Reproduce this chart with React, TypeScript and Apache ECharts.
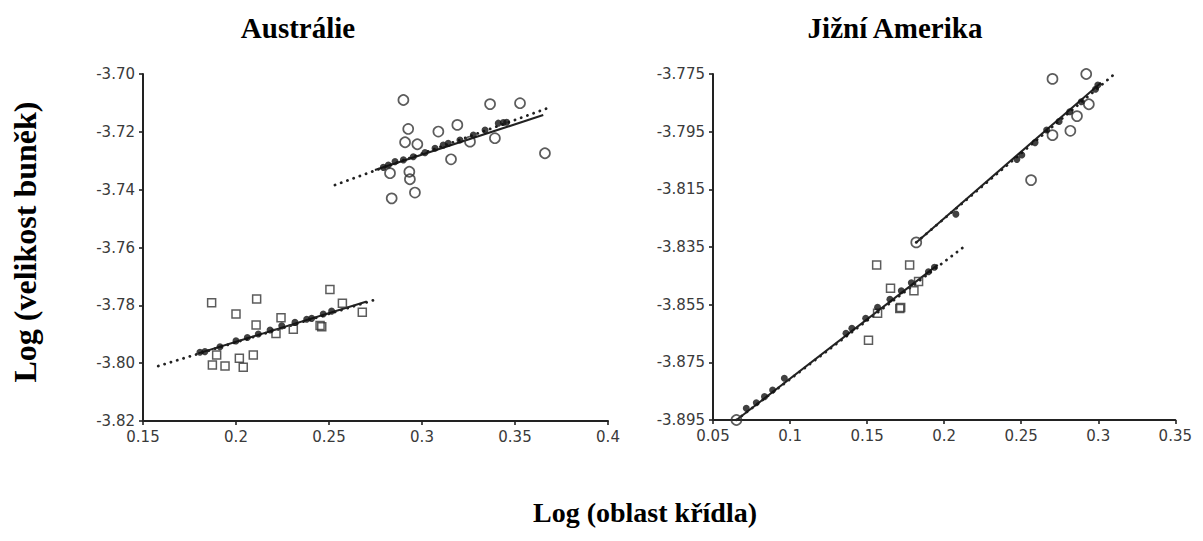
import React, { useEffect, useRef } from "react";
import * as echarts from "echarts";

// ---------- Data ----------
const auXTicks = [0.15, 0.2, 0.25, 0.3, 0.35, 0.4];
const auYTicks = [-3.82, -3.8, -3.78, -3.76, -3.74, -3.72, -3.7];
const saXTicks = [0.05, 0.1, 0.15, 0.2, 0.25, 0.3, 0.35];
const saYTicks = [-3.895, -3.875, -3.855, -3.835, -3.815, -3.795, -3.775];

// Austrálie – open circles (upper group)
const auCircles = [
  [0.29, -3.709], [0.3366, -3.7104], [0.3527, -3.7101], [0.2926, -3.719],
  [0.3088, -3.7199], [0.319, -3.7176], [0.2909, -3.7236], [0.2975, -3.7243],
  [0.3258, -3.7234], [0.3392, -3.7222], [0.3661, -3.7274], [0.3156, -3.7295],
  [0.2828, -3.7343], [0.2932, -3.7338], [0.2935, -3.7364], [0.2837, -3.743],
  [0.2962, -3.741],
];
// Austrálie – open squares (lower group)
const auSquares = [
  [0.1869, -3.7791], [0.2, -3.783], [0.2111, -3.7778], [0.2505, -3.7745],
  [0.2572, -3.7793], [0.2679, -3.7824], [0.2108, -3.7868], [0.2242, -3.7843],
  [0.2215, -3.7897], [0.2308, -3.7883], [0.2452, -3.787], [0.2461, -3.7874],
  [0.1873, -3.8006], [0.1941, -3.801], [0.1896, -3.7972], [0.2018, -3.7983],
  [0.2039, -3.8014], [0.2093, -3.7972],
];
// Austrálie – filled (fitted) points
const auUpperDots = [
  [0.2792, -3.7323], [0.2819, -3.7315], [0.2855, -3.7303], [0.29, -3.7297],
  [0.2953, -3.7286], [0.3016, -3.7272], [0.307, -3.7257], [0.3114, -3.7246],
  [0.3141, -3.724], [0.3204, -3.7228], [0.3276, -3.7211], [0.3339, -3.7194],
  [0.341, -3.717], [0.3437, -3.7168], [0.3455, -3.7167],
];
const auLowerDots = [
  [0.1806, -3.7962], [0.1833, -3.796], [0.1914, -3.7943], [0.2, -3.7923],
  [0.2061, -3.7911], [0.212, -3.7899], [0.2183, -3.7885], [0.2246, -3.7871],
  [0.2317, -3.7859], [0.238, -3.7848], [0.2407, -3.7845], [0.2469, -3.783],
  [0.2514, -3.782],
];
const auUpperFit = [[0.2747, -3.7332], [0.3652, -3.7142]];
const auUpperTrend = [[0.2532, -3.7384], [0.3697, -3.7113]];
const auLowerFit = [[0.1797, -3.7966], [0.2703, -3.7787]];
const auLowerTrend = [[0.1582, -3.801], [0.2756, -3.7779]];

// Jižní Amerika
const saCircles = [
  [0.2703, -3.7767], [0.2922, -3.775], [0.2939, -3.7855], [0.2862, -3.7896],
  [0.2819, -3.7947], [0.2703, -3.7962], [0.2564, -3.8118], [0.1819, -3.8334],
  [0.0652, -3.895],
];
const saSquares = [
  [0.1562, -3.8412], [0.1776, -3.8412], [0.1652, -3.8493], [0.1834, -3.847],
  [0.1804, -3.8502], [0.1568, -3.858], [0.1712, -3.8563], [0.1718, -3.856],
  [0.1509, -3.8673],
];
const saUpperDots = [
  [0.2997, -3.7788], [0.2982, -3.7803], [0.289, -3.7846], [0.2815, -3.7881],
  [0.2746, -3.7915], [0.2665, -3.7944], [0.259, -3.7988], [0.2504, -3.8031],
  [0.2472, -3.8046], [0.2076, -3.8236],
];
const saLowerDots = [
  [0.0716, -3.8909], [0.0781, -3.889], [0.0834, -3.8869], [0.0887, -3.8846],
  [0.0963, -3.8805], [0.1363, -3.8649], [0.1401, -3.8632], [0.1491, -3.8597],
  [0.1568, -3.8559], [0.1648, -3.8531], [0.1722, -3.8502], [0.1787, -3.8474],
  [0.1898, -3.8436], [0.1937, -3.842],
];
const saUpperFit = [[0.1819, -3.8334], [0.3018, -3.778]];
const saUpperTrend = [[0.1819, -3.8334], [0.3114, -3.7746]];
const saLowerFit = [[0.0652, -3.895], [0.1958, -3.8412]];
const saLowerTrend = [[0.0652, -3.895], [0.2151, -3.834]];

const INK = "#222";
const LABEL = "#3a3a3a";
const tickFont = "DejaVu Sans";

function makeAxes(xTicks: number[], yTicks: number[], idx: number, yDigits: number) {
  const x = {
    type: "value",
    gridIndex: idx,
    min: xTicks[0],
    max: xTicks[xTicks.length - 1],
    axisLine: { show: true, lineStyle: { color: INK, width: 2 } },
    axisTick: { show: true, customValues: xTicks, length: 4, lineStyle: { color: INK, width: 1.6 } },
    axisLabel: {
      customValues: xTicks,
      color: LABEL,
      fontFamily: tickFont,
      fontSize: 15,
      margin: 8,
      formatter: (v: number) => String(parseFloat(v.toFixed(2))),
    },
    splitLine: { show: false },
  };
  const y = {
    type: "value",
    gridIndex: idx,
    min: yTicks[0],
    max: yTicks[yTicks.length - 1],
    axisLine: { show: true, lineStyle: { color: INK, width: 2 } },
    axisTick: { show: true, customValues: yTicks, length: 4, lineStyle: { color: INK, width: 1.6 } },
    axisLabel: {
      customValues: yTicks,
      color: LABEL,
      fontFamily: tickFont,
      fontSize: 15,
      margin: 8,
      formatter: (v: number) => v.toFixed(yDigits),
    },
    splitLine: { show: false },
  };
  return { x, y };
}

function seriesFor(
  idx: number,
  circles: number[][],
  squares: number[][],
  dots: number[][][],
  fits: number[][][],
  trends: number[][][]
) {
  const s: any[] = [];
  trends.forEach((t) =>
    s.push({
      type: "line",
      xAxisIndex: idx,
      yAxisIndex: idx,
      data: t,
      showSymbol: false,
      symbol: "none",
      lineStyle: { color: INK, width: 2.8, type: [0.1, 6.5], cap: "round" },
      z: 2,
      silent: true,
    })
  );
  fits.forEach((f) =>
    s.push({
      type: "line",
      xAxisIndex: idx,
      yAxisIndex: idx,
      data: f,
      showSymbol: false,
      symbol: "none",
      lineStyle: { color: INK, width: 2 },
      z: 3,
      silent: true,
    })
  );
  s.push({
    type: "scatter",
    xAxisIndex: idx,
    yAxisIndex: idx,
    data: circles,
    symbol: "circle",
    symbolSize: 10,
    clip: false,
    itemStyle: { color: "rgba(255,255,255,0)", borderColor: "#333", borderWidth: 1.7 },
    z: 4,
  });
  s.push({
    type: "scatter",
    xAxisIndex: idx,
    yAxisIndex: idx,
    data: squares,
    symbol: "rect",
    symbolSize: 8,
    clip: false,
    itemStyle: { color: "rgba(255,255,255,0)", borderColor: "#333", borderWidth: 1.5 },
    z: 4,
  });
  dots.forEach((d) =>
    s.push({
      type: "scatter",
      xAxisIndex: idx,
      yAxisIndex: idx,
      data: d,
      symbol: "circle",
      symbolSize: 7,
      clip: false,
      itemStyle: { color: "#111" },
      z: 5,
    })
  );
  return s;
}

export default function App() {
  const ref = useRef<HTMLDivElement>(null);
  useEffect(() => {
    if (!ref.current) return;
    const chart = echarts.init(ref.current, null, { renderer: "svg" });
    const a = makeAxes(auXTicks, auYTicks, 0, 2);
    const b = makeAxes(saXTicks, saYTicks, 1, 3);
    const titleFont = "Liberation Serif";
    chart.setOption({
      animation: false,
      backgroundColor: "#fff",
      grid: [
        { left: 135, top: 66, width: 465, height: 347 },
        { left: 705, top: 66, width: 467, height: 346 },
      ],
      xAxis: [a.x, b.x],
      yAxis: [a.y, b.y],
      series: [
        ...seriesFor(0, auCircles, auSquares, [auUpperDots, auLowerDots], [auUpperFit, auLowerFit], [auUpperTrend, auLowerTrend]),
        ...seriesFor(1, saCircles, saSquares, [saUpperDots, saLowerDots], [saUpperFit, saLowerFit], [saUpperTrend, saLowerTrend]),
      ],
      graphic: [
        {
          type: "text",
          x: 290,
          y: 20,
          style: { text: "Austrálie", font: `bold 29px "${titleFont}"`, fill: "#000", textAlign: "center", textVerticalAlign: "middle" },
        },
        {
          type: "text",
          x: 887,
          y: 20,
          style: { text: "Jižní Amerika", font: `bold 29px "${titleFont}"`, fill: "#000", textAlign: "center", textVerticalAlign: "middle" },
        },
        {
          type: "text",
          x: 17,
          y: 234,
          rotation: Math.PI / 2,
          style: { text: "Log (velikost buněk)", font: `bold 32px "${titleFont}"`, fill: "#000", textAlign: "center", textVerticalAlign: "middle" },
        },
        {
          type: "text",
          x: 637,
          y: 504,
          style: { text: "Log (oblast křídla)", font: `bold 28px "${titleFont}"`, fill: "#000", textAlign: "center", textVerticalAlign: "middle" },
        },
      ],
    });
    return () => chart.dispose();
  }, []);
  return <div ref={ref} style={{ width: 1187, height: 525 }} />;
}
